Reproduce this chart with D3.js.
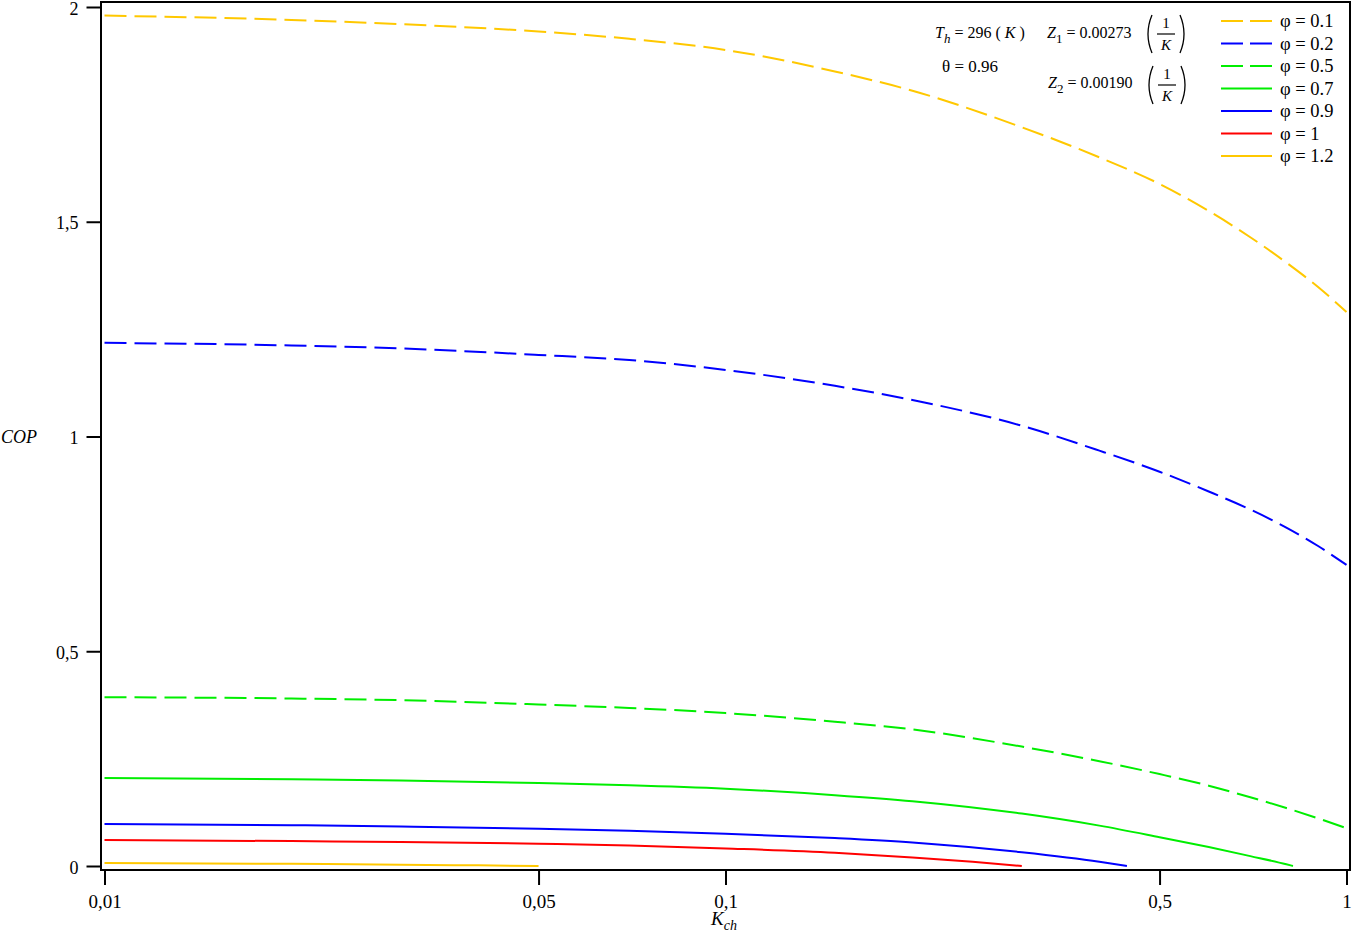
<!DOCTYPE html>
<html>
<head>
<meta charset="utf-8">
<script src="https://cdn.jsdelivr.net/npm/d3@7"></script>
<style>
  html, body { margin: 0; padding: 0; background: #fff; }
  svg { display: block; }
  text { font-family: "Liberation Serif", "DejaVu Serif", serif; fill: #000; }
</style>
</head>
<body>
<svg id="chart" width="1352" height="935"></svg>
<script>
// ---- data ----
const xTicks = [0.01, 0.05, 0.1, 0.5, 1];
const yTicks = [0, 0.5, 1, 1.5, 2];

const kPhi01 = [0.01, 0.02, 0.03, 0.05, 0.07, 0.1, 0.15, 0.2, 0.3, 0.4, 0.5, 0.6, 0.7, 0.8, 0.9, 1.0];
const copPhi01 = [1.980, 1.970, 1.960, 1.943, 1.926, 1.900, 1.850, 1.805, 1.720, 1.650, 1.588, 1.525, 1.464, 1.405, 1.348, 1.290];

const kPhi02 = [0.01, 0.02, 0.03, 0.05, 0.07, 0.1, 0.15, 0.2, 0.3, 0.4, 0.5, 0.6, 0.7, 0.8, 0.9, 1.0];
const copPhi02 = [1.218, 1.212, 1.205, 1.190, 1.178, 1.155, 1.118, 1.085, 1.025, 0.967, 0.918, 0.872, 0.830, 0.788, 0.745, 0.701];

const kPhi05 = [0.01, 0.02, 0.03, 0.05, 0.07, 0.1, 0.15, 0.2, 0.3, 0.4, 0.5, 0.6, 0.7, 0.8, 0.9, 1.0];
const copPhi05 = [0.393, 0.390, 0.386, 0.376, 0.368, 0.356, 0.336, 0.318, 0.278, 0.244, 0.214, 0.187, 0.160, 0.135, 0.111, 0.088];

const kPhi07 = [0.01, 0.02, 0.03, 0.05, 0.07, 0.1, 0.15, 0.2, 0.3, 0.4, 0.5, 0.6, 0.7, 0.8, 0.82];
const copPhi07 = [0.205, 0.202, 0.199, 0.193, 0.188, 0.180, 0.165, 0.151, 0.122, 0.094, 0.067, 0.044, 0.023, 0.004, 0.0];

const kPhi09 = [0.01, 0.02, 0.03, 0.05, 0.07, 0.1, 0.15, 0.2, 0.3, 0.4, 0.443];
const copPhi09 = [0.098, 0.095, 0.092, 0.087, 0.082, 0.075, 0.065, 0.055, 0.032, 0.010, 0.0];

const kPhi10 = [0.01, 0.02, 0.03, 0.05, 0.07, 0.1, 0.15, 0.2, 0.25, 0.3];
const copPhi10 = [0.0605, 0.058, 0.056, 0.052, 0.048, 0.041, 0.031, 0.020, 0.010, 0.0];

const kPhi12 = [0.01, 0.02, 0.03, 0.04, 0.05];
const copPhi12 = [0.007, 0.005, 0.003, 0.0015, 0.0];

const seriesNames = ["φ = 0.1", "φ = 0.2", "φ = 0.5", "φ = 0.7", "φ = 0.9", "φ = 1", "φ = 1.2"];
const seriesK = [kPhi01, kPhi02, kPhi05, kPhi07, kPhi09, kPhi10, kPhi12];
const seriesCop = [copPhi01, copPhi02, copPhi05, copPhi07, copPhi09, copPhi10, copPhi12];
const seriesColors = ["#FFC800", "#0000FF", "#00EE00", "#00EE00", "#0000FF", "#FF0000", "#FFC800"];
const seriesDashed = [true, true, true, false, false, false, false];

// ---- layout ----
const frame = { left: 101, right: 1350, top: 2, bottom: 870 };
const svg = d3.select("#chart");

const x = d3.scaleLog().domain([0.01, 1]).range([104.5, 1346.5]);
const y = d3.scaleLinear().domain([0, 2]).range([866, 7]);

const fmt = d => String(d).replace(".", ",");

// frame
svg.append("rect")
  .attr("x", frame.left).attr("y", frame.top)
  .attr("width", frame.right - frame.left).attr("height", frame.bottom - frame.top)
  .attr("fill", "none").attr("stroke", "#000").attr("stroke-width", 2);

// x axis
const gx = svg.append("g").attr("transform", `translate(0,${frame.bottom})`)
  .call(d3.axisBottom(x).tickValues(xTicks).tickFormat(fmt).tickSize(15).tickPadding(10));
gx.select(".domain").remove();
gx.selectAll(".tick line").attr("stroke", "#000").attr("stroke-width", 2);
gx.selectAll(".tick text").attr("font-size", 19).attr("font-family", "Liberation Serif").attr("fill", "#000");

// y axis
const gy = svg.append("g").attr("transform", `translate(${frame.left - 0.5},0)`)
  .call(d3.axisLeft(y).tickValues(yTicks).tickFormat(fmt).tickSize(14).tickPadding(8));
gy.select(".domain").remove();
gy.selectAll(".tick line").attr("stroke", "#000").attr("stroke-width", 2);
gy.selectAll(".tick text").attr("font-size", 18).attr("font-family", "Liberation Serif").attr("fill", "#000").attr("dy", "0.4em");

// axis titles
const xt = svg.append("text").attr("x", 711).attr("y", 925).attr("font-size", 19).attr("font-style", "italic");
xt.append("tspan").text("K");
xt.append("tspan").attr("dy", 5).attr("font-size", 14).text("ch");

svg.append("text").attr("x", 1).attr("y", 443).attr("font-size", 18).attr("font-style", "italic").text("COP");

// curves
const line = d3.line().x(d => x(d[0])).y(d => y(d[1])).curve(d3.curveMonotoneX);
seriesNames.forEach((name, i) => {
  const pts = seriesK[i].map((k, j) => [k, seriesCop[i][j]]);
  svg.append("path").datum(pts)
    .attr("d", line)
    .attr("fill", "none")
    .attr("stroke", seriesColors[i])
    .attr("stroke-width", 2)
    .attr("stroke-dasharray", seriesDashed[i] ? "22,8" : null);
});

// legend
const legendY0 = 21, legendDY = 22.5;
seriesNames.forEach((name, i) => {
  const yy = legendY0 + i * legendDY;
  svg.append("line")
    .attr("x1", 1221).attr("x2", 1272).attr("y1", yy).attr("y2", yy)
    .attr("stroke", seriesColors[i]).attr("stroke-width", 2)
    .attr("stroke-dasharray", seriesDashed[i] ? "22,7" : null);
  svg.append("text").attr("x", 1280).attr("y", yy + 6).attr("font-size", 18.5).text(name);
});

// annotations
const a1 = svg.append("text").attr("x", 935).attr("y", 38).attr("font-size", 16);
a1.append("tspan").attr("font-style", "italic").text("T");
a1.append("tspan").attr("font-style", "italic").attr("font-size", 13).attr("dy", 5).text("h");
a1.append("tspan").attr("dy", -5).text(" = 296  ( ");
a1.append("tspan").attr("font-style", "italic").text("K");
a1.append("tspan").text(" )");

function zLabel(xp, yb, sub, val) {
  const t = svg.append("text").attr("x", xp).attr("y", yb).attr("font-size", 16);
  t.append("tspan").attr("font-style", "italic").text("Z");
  t.append("tspan").attr("font-size", 13).attr("dy", 5).text(sub);
  t.append("tspan").attr("dy", -5).text(" = " + val);
}
zLabel(1047, 38, "1", "0.00273");
zLabel(1048, 88, "2", "0.00190");

function frac(xc, ym) {
  const h = 19;
  svg.append("path")
    .attr("d", `M${xc - 14},${ym - h} Q${xc - 22},${ym} ${xc - 14},${ym + h}`)
    .attr("fill", "none").attr("stroke", "#000").attr("stroke-width", 1.3);
  svg.append("path")
    .attr("d", `M${xc + 14},${ym - h} Q${xc + 22},${ym} ${xc + 14},${ym + h}`)
    .attr("fill", "none").attr("stroke", "#000").attr("stroke-width", 1.3);
  svg.append("text").attr("x", xc).attr("y", ym - 6).attr("font-size", 15)
    .attr("text-anchor", "middle").text("1");
  svg.append("line").attr("x1", xc - 9).attr("x2", xc + 9).attr("y1", ym).attr("y2", ym)
    .attr("stroke", "#000").attr("stroke-width", 1.2);
  svg.append("text").attr("x", xc).attr("y", ym + 16).attr("font-size", 15)
    .attr("text-anchor", "middle").attr("font-style", "italic").text("K");
}
frac(1166, 34);
frac(1167, 85);

svg.append("text").attr("x", 942).attr("y", 72).attr("font-size", 17).text("θ = 0.96");
</script>
</body>
</html>
